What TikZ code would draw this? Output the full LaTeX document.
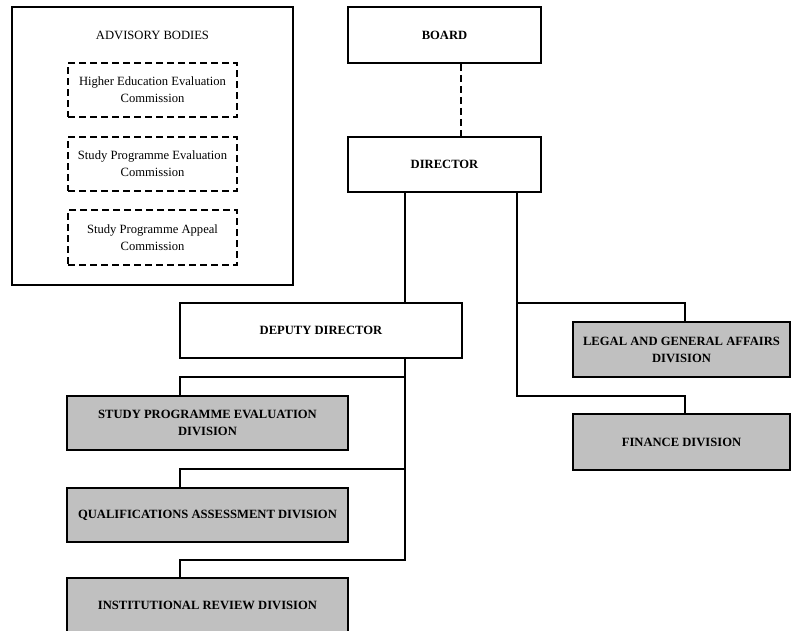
\documentclass[tikz,border=0pt]{standalone}
\usepackage{fontspec}
\setmainfont{Liberation Serif}
\usepackage{tikz}
\usetikzlibrary{calc}
\definecolor{divgray}{RGB}{192,192,192}

\begin{document}
\begin{tikzpicture}[x=1pt,y=-1pt]
	\tikzstyle{every node}+=[inner sep=0pt,font=\fontsize{12.6}{17}\selectfont,align=center]
	\tikzstyle{unitbox}=[draw,line width=1.8pt,minimum height=55pt]
	\tikzstyle{divbox}=[unitbox,fill=divgray,font=\fontsize{12.6}{17}\selectfont\bfseries]
	\tikzstyle{headbox}=[unitbox,fill=white,font=\fontsize{12.6}{17}\selectfont\bfseries]
	\tikzstyle{commbox}=[draw,line width=1.8pt,dash pattern=on 7pt off 4pt,minimum width=169pt,minimum height=54pt]
	\tikzstyle{link}=[line width=1.6pt,line cap=rect]
	\useasboundingbox (0,0) rectangle (792,630);
	\clip (0,0) rectangle (792,630);
	\node [draw,line width=1.8pt,minimum width=281pt,minimum height=278pt] (advisory) at (152.5,146) {};
	\node (advtitle) at (152.5,35) {ADVISORY BODIES};
	\node [commbox] (hee) at (152.5,90) {Higher Education Evaluation\\Commission};
	\node [commbox] (spec) at (152.5,164) {Study Programme Evaluation\\Commission};
	\node [commbox,minimum height=55pt] (spac) at (152.5,237.5) {Study Programme Appeal\\Commission};
	\node [headbox,minimum width=193pt,minimum height=56pt] (board) at (444.5,35) {BOARD};
	\node [headbox,minimum width=193pt] (director) at (444.5,164.5) {DIRECTOR};
	\node [headbox,minimum width=282pt] (deputy) at (321,330.5) {DEPUTY DIRECTOR};
	\node [divbox,minimum width=217pt] (legal) at (681.5,349.5) {LEGAL AND GENERAL AFFAIRS\\DIVISION};
	\node [divbox,minimum width=217pt,minimum height=56pt] (finance) at (681.5,442) {FINANCE DIVISION};
	\node [divbox,minimum width=281pt,minimum height=54pt] (sped) at (207.5,423) {STUDY PROGRAMME EVALUATION\\DIVISION};
	\node [divbox,minimum width=281pt,minimum height=54pt] (qad) at (207.5,515) {QUALIFICATIONS ASSESSMENT DIVISION};
	\node [divbox,minimum width=281pt] (ird) at (207.5,605.5) {INSTITUTIONAL REVIEW DIVISION};
	\coordinate (dashx) at (461,0);
	\coordinate (ltrunk) at (405,0);
	\coordinate (rtrunk) at (517,0);
	\coordinate (lb1) at (180,377);
	\coordinate (lb2) at (180,469);
	\coordinate (lb3) at (180,560);
	\coordinate (rb1) at (685,303);
	\coordinate (rb2) at (685,396);
	\draw [line width=1.6pt,dash pattern=on 7pt off 4pt] (board.south -| dashx) -- (director.north -| dashx);
	\draw [link] (director.south -| ltrunk) -- (deputy.north -| ltrunk);
	\draw [link] (deputy.south -| ltrunk) -- (lb3 -| ltrunk);
	\draw [link] (lb1 -| ltrunk) -| (sped.north -| lb1);
	\draw [link] (lb2 -| ltrunk) -| (qad.north -| lb2);
	\draw [link] (lb3 -| ltrunk) -| (ird.north -| lb3);
	\draw [link] (director.south -| rtrunk) -- (rb2 -| rtrunk);
	\draw [link] (rb1 -| rtrunk) -| (legal.north -| rb1);
	\draw [link] (rb2 -| rtrunk) -| (finance.north -| rb2);
\end{tikzpicture}
\end{document}
